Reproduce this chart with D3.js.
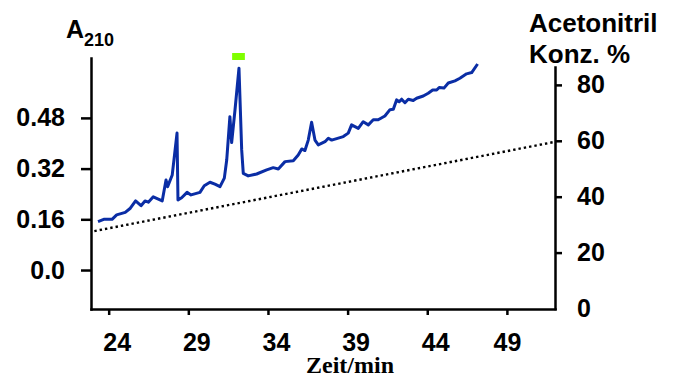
<!DOCTYPE html>
<html lang="de">
<head>
    <meta charset="utf-8">
    <script src="https://cdn.jsdelivr.net/npm/d3@7"></script>
    <style>
        body { margin: 0; background: #fff; }
        text { font-family: "Liberation Sans", Arial, sans-serif; font-weight: bold; fill: #000; }
        .axis path, .axis line { stroke: #000; stroke-width: 2.5; }
        .axis text { font-size: 25px; }
    </style>
</head>
<body>
<div id="svg"></div>

<script>
    // chromatogram A210 vs time (min)
    var time = [23.33, 23.69, 24.21, 24.50, 25.04, 25.36, 25.69, 26.03, 26.28, 26.49,
        26.80, 27.36, 27.60, 27.70, 27.99, 28.29, 28.35, 28.58, 28.92, 29.17,
        29.73, 30.00, 30.36, 30.67, 30.99, 31.26, 31.41, 31.61, 31.72, 31.93,
        32.18, 32.35, 32.45, 32.76, 33.29, 33.92, 34.33, 34.65, 35.07, 35.59,
        35.90, 36.12, 36.32, 36.53, 36.74, 36.95, 37.16, 37.58, 37.79, 38.00,
        38.73, 39.04, 39.25, 39.67, 39.98, 40.30, 40.61, 40.92, 41.34, 41.66,
        41.87, 42.08, 42.24, 42.39, 42.60, 42.81, 43.12, 43.33, 43.75, 44.06,
        44.34, 44.59, 44.75, 45.05, 45.32, 45.74, 46.05, 46.47, 46.79, 47.16];
    var absorbance = [0.153, 0.160, 0.160, 0.174, 0.182, 0.195, 0.218, 0.203, 0.218, 0.214,
        0.231, 0.218, 0.284, 0.263, 0.300, 0.432, 0.221, 0.228, 0.245, 0.237,
        0.245, 0.266, 0.277, 0.271, 0.263, 0.290, 0.347, 0.484, 0.402, 0.505,
        0.637, 0.379, 0.305, 0.297, 0.303, 0.316, 0.323, 0.319, 0.342, 0.345,
        0.363, 0.382, 0.377, 0.410, 0.466, 0.410, 0.395, 0.405, 0.416, 0.410,
        0.421, 0.432, 0.458, 0.447, 0.468, 0.458, 0.474, 0.474, 0.486, 0.506,
        0.507, 0.537, 0.531, 0.539, 0.528, 0.539, 0.535, 0.542, 0.549, 0.558,
        0.568, 0.568, 0.576, 0.574, 0.590, 0.597, 0.605, 0.619, 0.623, 0.650];

    // acetonitrile gradient (%)
    var gradTime = [23.1, 51.9];
    var gradConc = [27.7, 59.5];

    // collected fraction (green bar)
    var fraction = [31.75, 32.55];

    var xTicks = [24, 29, 34, 39, 44, 49];
    var yTicks = [0, 0.16, 0.32, 0.48];
    var yTickLabels = ["0.0", "0.16", "0.32", "0.48"];
    var y2Ticks = [0, 20, 40, 60, 80];

    var width = 676, height = 378;
    var left = 91, right = 555, bottom = 309;

    var svg = d3.select("#svg").append("svg")
        .attr("width", width)
        .attr("height", height);

    var x = d3.scaleLinear().domain([22.89, 52.02]).range([left, right]);
    var y = d3.scaleLinear().domain([-0.123, 0.669]).range([bottom, 58]);
    var y2 = d3.scaleLinear().domain([0, 86.4]).range([bottom - 0.5, 67]);

    // axes
    svg.append("g")
        .attr("class", "axis")
        .attr("transform", "translate(" + left + ",0)")
        .call(d3.axisLeft(y).tickValues(yTicks).tickSize(10).tickSizeOuter(0).tickPadding(16)
            .tickFormat(function(d, i){ return yTickLabels[i]; }));

    var ax1 = svg.append("g")
        .attr("class", "axis")
        .attr("transform", "translate(0," + bottom + ")")
        .call(d3.axisBottom(x).tickValues(xTicks).tickSize(6).tickSizeOuter(0).tickPadding(18));
    // labels sit a bit right of their ticks in the original
    ax1.selectAll(".tick text").filter(function(d){ return d !== 49; }).attr("dx", 8);

    var ax2 = svg.append("g")
        .attr("class", "axis")
        .attr("transform", "translate(" + right + ",0)")
        .call(d3.axisRight(y2).tickValues(y2Ticks).tickSize(7).tickSizeOuter(0).tickPadding(15));
    ax2.selectAll(".tick").filter(function(d){ return d === 0; }).select("line").remove();

    svg.selectAll(".axis path").attr("stroke-linecap", "square");

    // gradient
    var grad = gradTime.map(function(t, i){ return [t, gradConc[i]]; });
    svg.append("path")
        .datum(grad)
        .attr("fill", "none")
        .attr("stroke", "#000")
        .attr("stroke-width", 2.4)
        .attr("stroke-dasharray", "2.4,3")
        .attr("d", d3.line()
            .x(function(d){ return x(d[0]); })
            .y(function(d){ return y2(d[1]); }));

    // chromatogram
    var trace = time.map(function(t, i){ return [t, absorbance[i]]; });
    svg.append("path")
        .datum(trace)
        .attr("fill", "none")
        .attr("stroke", "#0a2da5")
        .attr("stroke-width", 3)
        .attr("stroke-linejoin", "round")
        .attr("d", d3.line()
            .x(function(d){ return x(d[0]); })
            .y(function(d){ return y(d[1]); }));

    // fraction marker
    svg.append("rect")
        .attr("x", x(fraction[0]))
        .attr("width", x(fraction[1]) - x(fraction[0]))
        .attr("y", 53)
        .attr("height", 7)
        .attr("fill", "#7fff00");

    // titles
    var a = svg.append("text")
        .attr("x", 66)
        .attr("y", 38)
        .style("font-size", "25px");
    a.append("tspan").text("A");
    a.append("tspan").attr("dy", 8).style("font-size", "18px").text("210");

    svg.append("text")
        .attr("x", 529)
        .attr("y", 32)
        .style("font-size", "26px")
        .text("Acetonitril");
    svg.append("text")
        .attr("x", 529)
        .attr("y", 63)
        .style("font-size", "26px")
        .text("Konz. %");

    svg.append("text")
        .attr("x", 350)
        .attr("y", 373)
        .attr("text-anchor", "middle")
        .style("font-family", "'Liberation Serif', 'Times New Roman', serif")
        .style("font-size", "24px")
        .text("Zeit/min");
</script>
</body>
</html>
